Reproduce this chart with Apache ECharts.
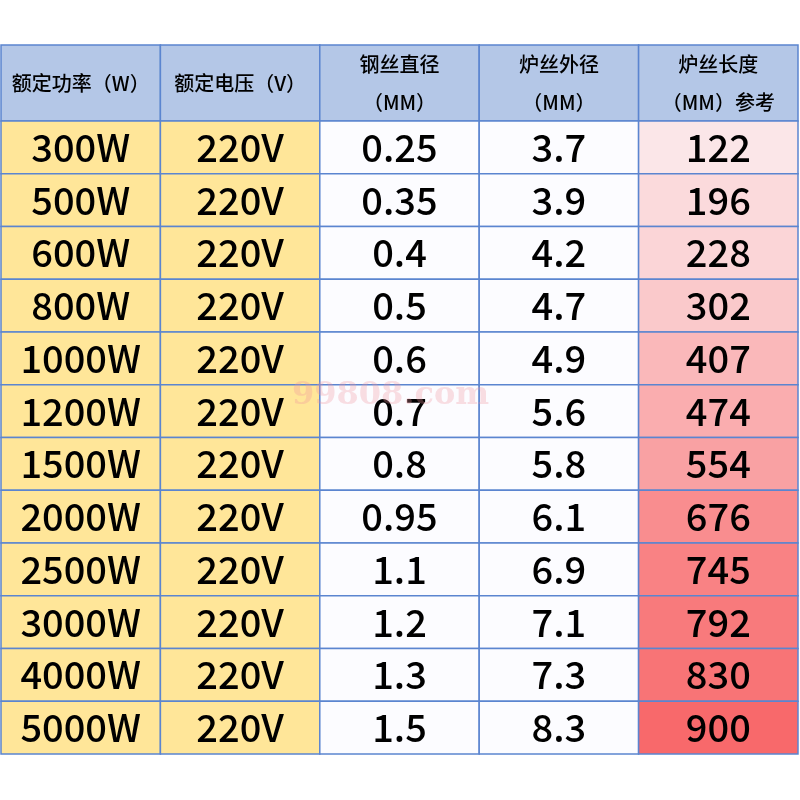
<!DOCTYPE html>
<html><head><meta charset="utf-8">
<script src="https://cdn.jsdelivr.net/npm/echarts@6/dist/echarts.min.js"></script>
<style>html,body{margin:0;background:#fff}#c{width:800px;height:800px}</style>
</head><body><div id="c"></div>
<script>
const headers = ['额定功率（W）', '额定电压（V）', '钢丝直径\n（MM）', '炉丝外径\n（MM）', '炉丝长度\n（MM）参考'];
const power = ['300W','500W','600W','800W','1000W','1200W','1500W','2000W','2500W','3000W','4000W','5000W'];
const voltage = ['220V','220V','220V','220V','220V','220V','220V','220V','220V','220V','220V','220V'];
const wireDia = ['0.25','0.35','0.4','0.5','0.6','0.7','0.8','0.95','1.1','1.2','1.3','1.5'];
const outerDia = ['3.7','3.9','4.2','4.7','4.9','5.6','5.8','6.1','6.9','7.1','7.3','8.3'];
const length = [122,196,228,302,407,474,554,676,745,792,830,900];

const H = 1.44;
const cols = [power, voltage, wireDia, outerDia, length];
const data = [];
headers.forEach((h, c) => data.push([c, -1, h]));
cols.forEach((arr, c) => arr.forEach((v, r) => data.push([c, r, String(v)])));
const lo = [251,230,232], hi = [248,105,107];
const minL = Math.min(...length), maxL = Math.max(...length);
function heat(v){const t=(v-minL)/(maxL-minL);return 'rgb('+lo.map((a,i)=>Math.round(a+(hi[i]-a)*t)).join(',')+')';}
const chart = echarts.init(document.getElementById('c'));
chart.setOption({
  animation:false,
  grid:{left:1,right:2,top:45,bottom:46},
  xAxis:{type:'value',min:0,max:5,show:false},
  yAxis:{type:'value',min:0,max:12+H,inverse:true,show:false},
  graphic:[{type:'text',left:292,top:380,z:100,style:{text:'99808.com',font:'bold 32px "DejaVu Serif"',fill:'rgba(240,150,160,0.3)'}}],
  series:[{type:'custom',data,
    renderItem(params, api){
      const c=api.value(0), r=api.value(1), txt=data[params.dataIndex][2];
      const y0 = r<0?0:H+r, y1 = r<0?H:H+r+1;
      const p0=api.coord([c,y0]), p1=api.coord([c+1,y1]);
      let fill;
      if(r<0) fill='#b4c7e7'; else if(c<2) fill='#ffe699'; else if(c<4) fill='#fcfcff'; else fill=heat(length[r]);
      return {type:'group',children:[
        {type:'rect',shape:{x:p0[0],y:p0[1],width:p1[0]-p0[0],height:p1[1]-p0[1]},style:{fill,stroke:'#5b85d0',lineWidth:1.5}},
        {type:'text',style:{text:txt,x:(p0[0]+p1[0])/2,y:(p0[1]+p1[1])/2,align:'center',verticalAlign:'middle',
          fill:'#000',font: r<0?'500 20px "Noto Sans CJK SC"':'500 38px "Noto Sans CJK SC"',lineHeight:r<0?38:40}}
      ]};
    }}]
});
</script></body></html>
